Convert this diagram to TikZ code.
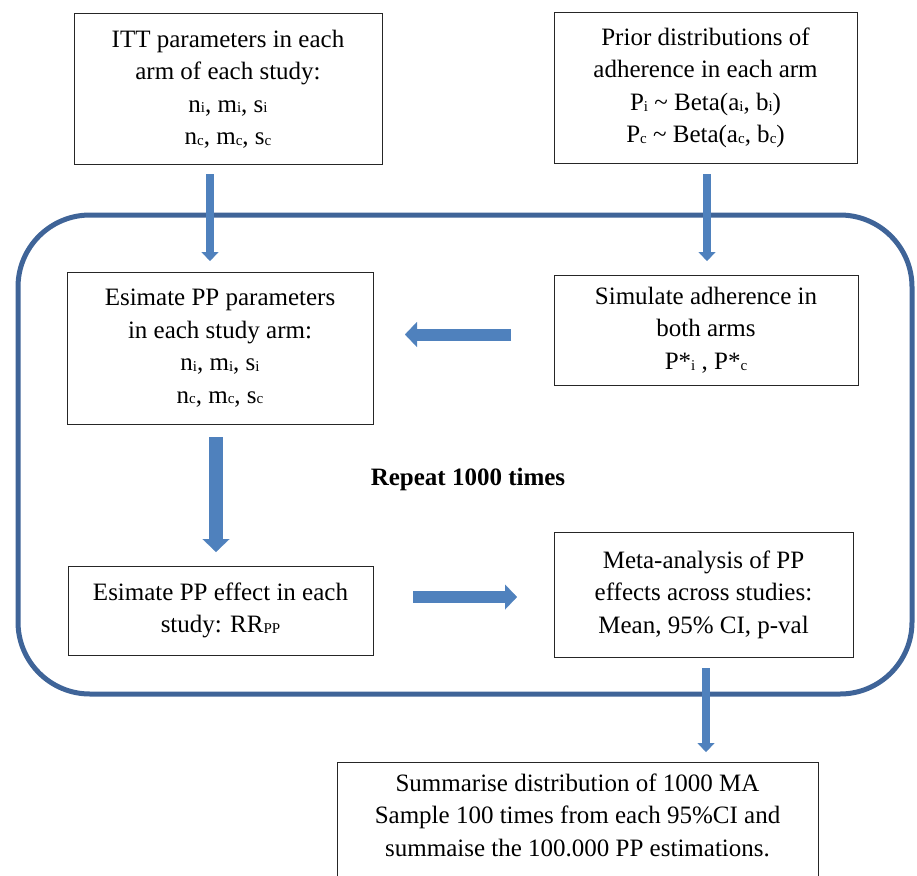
\documentclass[tikz,border=0pt]{standalone}
\usepackage{fontspec}
\setmainfont{Liberation Serif}
\usetikzlibrary{arrows.meta}
\definecolor{framecol}{RGB}{63,100,152}
\definecolor{arrcol}{RGB}{79,129,189}
\newcommand\lo[1]{\raisebox{-0.8pt}{\fontsize{15}{15}\selectfont #1}}
\tikzset{
  box/.style={draw=black!85, line width=1pt, align=center, inner sep=0pt,
    font=\fontsize{25}{32.5}\selectfont},
  thinarrow/.style={draw=arrcol, line width=8pt,
    -{Triangle[width=17pt,length=9pt,line width=0.1pt]}},
  midarrow/.style={draw=arrcol, line width=12pt,
    -{Triangle[width=25pt,length=12pt,line width=0.1pt]}},
  fatarrow/.style={draw=arrcol, line width=14pt,
    -{Triangle[width=27pt,length=13pt,line width=0.1pt]}},
}
\begin{document}
\begin{tikzpicture}[x=1pt,y=-1pt]
\useasboundingbox (0,0) rectangle (917,875);
% repeat loop frame
\node[draw=framecol, line width=5pt, rounded corners=72pt,
  minimum width=894pt, minimum height=479pt, inner sep=0pt] (loop) at (465,454.5) {};
% boxes
\node[box, minimum width=308pt, minimum height=150pt] (itt) at (228,89)
  {ITT parameters in each\\arm of each study:\\n\lo{i}, m\lo{i}, s\lo{i}\\n\lo{c}, m\lo{c}, s\lo{c}};
\node[box, minimum width=303pt, minimum height=150pt] (prior) at (705.5,88)
  {Prior distributions of\\adherence in each arm\\P\lo{i} \textasciitilde{} Beta(a\lo{i}, b\lo{i})\\P\lo{c} \textasciitilde{} Beta(a\lo{c}, b\lo{c})};
\node[box, minimum width=306pt, minimum height=152pt] (estpar) at (220,348)
  {Esimate PP parameters\\in each study arm:\\n\lo{i}, m\lo{i}, s\lo{i}\\n\lo{c}, m\lo{c}, s\lo{c}};
\node[box, minimum width=304pt, minimum height=110pt] (sim) at (706,330)
  {Simulate adherence in\\both arms\\P*\lo{i} , P*\lo{c}};
\node[box, minimum width=305pt, minimum height=89pt] (esteff) at (220.5,610.5)
  {Esimate PP effect in each\\study: RR\lo{PP}};
\node[box, minimum width=299pt, minimum height=125pt] (meta) at (703.5,594.5)
  {Meta-analysis of PP\\effects across studies:\\Mean, 95\% CI, p-val};
\node[box, anchor=north, minimum width=481pt, inner ysep=11pt, text depth=30pt] (sum) at (577.5,762)
  {Summarise distribution of 1000 MA\\Sample 100 times from each 95\%CI and\\summaise the 100.000 PP estimations.};
\node[font=\fontsize{25}{30}\selectfont\bfseries] (rep) at (468,479) {Repeat 1000 times};
% arrow end points
\coordinate (a1s) at (210,174); \coordinate (a1e) at (210,261);
\coordinate (a2s) at (707,174); \coordinate (a2e) at (707,261);
\coordinate (a3s) at (511,334.5); \coordinate (a3e) at (405,334.5);
\coordinate (a4s) at (216,437); \coordinate (a4e) at (216,552);
\coordinate (a5s) at (413,597); \coordinate (a5e) at (517,597);
\coordinate (a6s) at (706,668); \coordinate (a6e) at (706,752);
\draw[thinarrow] (a1s) -- (a1e);
\draw[thinarrow] (a2s) -- (a2e);
\draw[midarrow] (a3s) -- (a3e);
\draw[fatarrow] (a4s) -- (a4e);
\draw[midarrow] (a5s) -- (a5e);
\draw[thinarrow] (a6s) -- (a6e);
\end{tikzpicture}
\end{document}
